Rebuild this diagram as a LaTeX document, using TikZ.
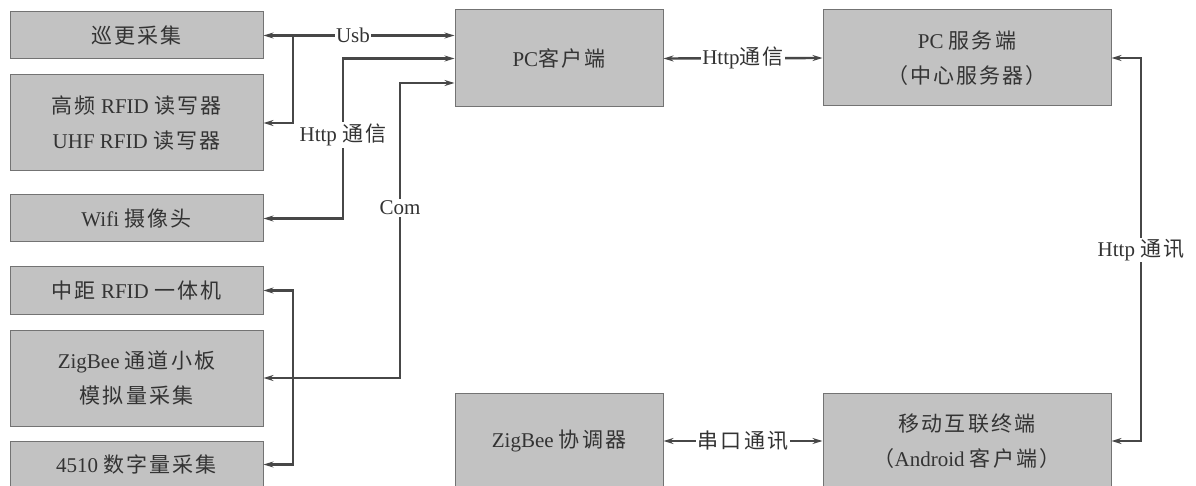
\documentclass[tikz,border=0pt]{standalone}
\usepackage{fontspec}
\setmainfont{Liberation Serif}
\newfontfamily\cjk{Noto Sans CJK SC}[LetterSpace=10]
\newcommand\zh[1]{{\cjk #1}}
\usetikzlibrary{arrows.meta}
\begin{document}
\begin{tikzpicture}[x=1pt,y=-1pt,
  >={Stealth[length=10pt,width=6pt]},
  box/.style={draw=black!55, line width=1pt, fill=black!24, text=black!80,
    font=\fontsize{21}{35}\selectfont, align=center, inner sep=0pt},
  conn/.style={draw=black!72, line width=2.4pt},
  lbl/.style={fill=white, text=black!80, font=\fontsize{21}{24}\selectfont, inner sep=1.5pt}]
\fill[white] (0,0) rectangle (1196,486);
\useasboundingbox (0,0) rectangle (1196,486);
% left column
\node[box, minimum width=253pt, minimum height=47pt] (b1) at (136.5,35.5) {\zh{巡更采集}};
\node[box, minimum width=253pt, minimum height=96pt] (b2) at (136.5,123) {\zh{高频} RFID \zh{读写器}\\UHF RFID \zh{读写器}};
\node[box, minimum width=253pt, minimum height=47pt] (b3) at (136.5,218.5) {Wifi \zh{摄像头}};
\node[box, minimum width=253pt, minimum height=47pt] (b4) at (136.5,290.5) {\zh{中距} RFID \zh{一体机}};
\node[box, minimum width=253pt, minimum height=96pt] (b5) at (136.5,378) {ZigBee \zh{通道小板}\\\zh{模拟量采集}};
\node[box, minimum width=253pt, minimum height=47pt] (b6) at (136.5,464.5) {4510 \zh{数字量采集}};
% other nodes
\node[box, minimum width=208pt, minimum height=97pt] (pc) at (559,58.5) {PC\zh{客户端}};
\node[box, minimum width=288pt, minimum height=96pt] (srv) at (967,58) {PC \zh{服务端}\\\zh{（中心服务器）}};
\node[box, minimum width=208pt, minimum height=96pt] (zc) at (559,441) {ZigBee \zh{协调器}};
\node[box, minimum width=288pt, minimum height=96pt] (mob) at (967,441) {\zh{移动互联终端}\\\zh{（}Android \zh{客户端）}};
% routing coordinates
\coordinate (bus) at (293,0);
\coordinate (hx) at (343,0);
\coordinate (cx) at (400,0);
\coordinate (cy) at (0,83);
\coordinate (rx) at (1141,0);
% connectors
\draw[conn,<->] (b1.east) -- (b1.east -| pc.west);
\node[lbl] (usb) at (353,35.5) {Usb};
\draw[conn,->] (b1.east -| bus) |- (b2.east);
\draw[conn,<->] (pc.west) -- (pc.west -| hx) |- (b3.east);
\node[lbl] (http1) at (343,135) {Http \zh{通信}};
\draw[conn,<->] (pc.west |- cy) -- (cx |- cy) |- (b5.east);
\node[lbl] (com) at (400,208) {Com};
\draw[conn,<->] (b4.east) -- (b4.east -| bus) -- (b6.east -| bus) -- (b6.east);
\draw[conn,<->] (pc.east) -- node[lbl] (http2) {Http\zh{通信}} (srv.west);
\draw[conn,<->] (srv.east) -- (srv.east -| rx) -- (mob.east -| rx) -- (mob.east);
\node[lbl] (http3) at (1141,250) {Http \zh{通讯}};
\draw[conn,<->] (zc.east) -- node[lbl] (ser) {\zh{串口通讯}} (mob.west);
\end{tikzpicture}
\end{document}
